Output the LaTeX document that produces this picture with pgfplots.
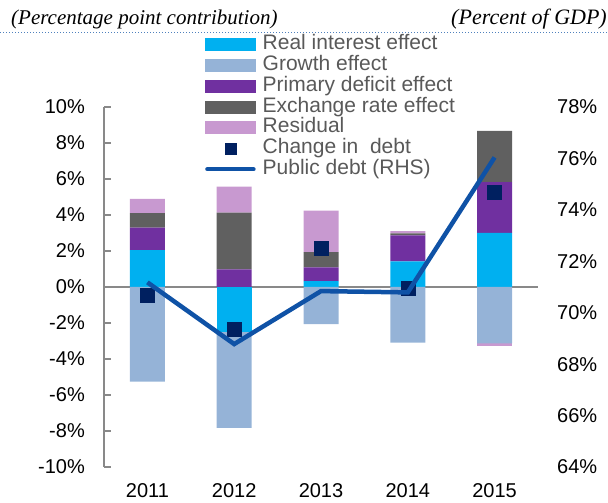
\documentclass[border=0pt]{standalone}
\usepackage{pgfplots}
\pgfplotsset{compat=1.18}
\usepackage{fontspec}
\setmainfont{Liberation Sans}
\newfontfamily\hdrfont{Liberation Serif}
\definecolor{realC}{HTML}{00B0F0}
\definecolor{growC}{HTML}{95B3D7}
\definecolor{primC}{HTML}{7030A0}
\definecolor{exchC}{HTML}{606060}
\definecolor{resC}{HTML}{C899D0}
\definecolor{chgC}{HTML}{002060}
\definecolor{debtC}{HTML}{0F52A6}
\definecolor{axC}{HTML}{898989}
\definecolor{legC}{HTML}{595959}
\definecolor{dotC}{HTML}{4F81BD}
\newcommand\fs{\fontsize{20pt}{22pt}\selectfont}
\newcommand\lfs{\fontsize{21pt}{23pt}\selectfont}
\pgfplotsset{
  base/.style={
    scale only axis, width=434pt, height=360pt,
    at={(104pt,36pt)}, anchor=south west,
    xmin=-0.5, xmax=4.5,
  },
  lfs/.style={ymin=-10, ymax=10},
}
\begin{document}
\begin{tikzpicture}
\useasboundingbox (0,0) rectangle (608pt,503pt);
\node[anchor=base west, inner sep=0pt, font=\hdrfont\itshape\fontsize{21pt}{23pt}\selectfont] at (11pt,478pt) {(Percentage point contribution)};
\node[anchor=base east, inner sep=0pt, font=\hdrfont\itshape\fontsize{22pt}{24pt}\selectfont] at (607pt,478pt) {(Percent of GDP)};
\draw[dotC, dotted, line width=1pt] (0pt,470pt) -- (608pt,470pt);

% axis 0: decorations
\begin{axis}[base, lfs,
  axis y line*=left, axis x line*=bottom,
  x axis line style={draw=none},
  xtick={0,...,4}, xticklabels={2011,2012,2013,2014,2015},
  xtick style={draw=none},
  ytick={-10,-8,...,10},
  tick align=inside, major tick length=7pt,
  y axis line style={axC, line width=1.2pt},
  ytick style={axC, line width=1.2pt},
  yticklabel={\pgfmathprintnumber{\tick}\%},
  /pgf/number format/assume math mode=true,
  tick label style={font=\fs, inner sep=0pt},
  yticklabel style={xshift=-19pt},
  xticklabel style={yshift=-16pt},
]
\draw[axC, line width=1.6pt] (axis cs:-0.5,0) -- (axis cs:4.5,0);
\pgfplotsinvokeforeach{0.5,1.5,2.5,3.5,4.5}{
  \draw[axC, line width=1.2pt] (axis cs:#1,0) ++(0,6pt) -- ++(0,-12pt);
}
\end{axis}

% axis A: positive stack
\begin{axis}[base, lfs, hide axis, ybar stacked, bar width=35pt]
\addplot[fill=realC, draw=none] coordinates {(0,2.05) (1,0) (2,0.33) (3,1.43) (4,3.0)};
\addplot[fill=primC, draw=none] coordinates {(0,1.25) (1,0.98) (2,0.76) (3,1.44) (4,2.82)};
\addplot[fill=exchC, draw=none] coordinates {(0,0.8) (1,3.15) (2,0.85) (3,0.11) (4,2.86)};
\addplot[fill=resC, draw=none] coordinates {(0,0.8) (1,1.44) (2,2.3) (3,0.12) (4,0)};
\end{axis}

% axis B: negative stack
\begin{axis}[base, lfs, hide axis, ybar stacked, bar width=35pt]
\addplot[fill=realC, draw=none] coordinates {(0,0) (1,-2.48) (2,0) (3,0) (4,0)};
\addplot[fill=growC, draw=none] coordinates {(0,-5.26) (1,-5.34) (2,-2.06) (3,-3.09) (4,-3.13)};
\addplot[fill=resC, draw=none] coordinates {(0,0) (1,0) (2,0) (3,0) (4,-0.15)};
\end{axis}

% axis D: change in debt markers
\begin{axis}[base, lfs, hide axis]
\addplot[only marks, mark=square*, mark size=7pt, color=chgC] coordinates {(0,-0.44) (1,-2.33) (2,2.13) (3,-0.06) (4,5.28)};
\end{axis}

% axis E: right axis, public debt, legend
\begin{axis}[base, ymin=64, ymax=78, ytick={64,66,...,78},
  axis y line*=right, axis x line=none,
  y axis line style={draw=none}, ytick style={draw=none},
  yticklabel={\pgfmathprintnumber{\tick}\%},
  /pgf/number format/assume math mode=true,
  tick label style={font=\fs, inner sep=0pt},
  yticklabel style={xshift=19pt},
  legend style={at={(0.2327,1.2)}, anchor=north west, draw=none, fill=none,
    font=\lfs, text=legC, inner sep=0pt, row sep=2.3pt, column sep=7pt,
    nodes={inner sep=0pt, text height=14.5pt, text depth=4pt}},
  legend cell align=left,
]
\addlegendimage{legend image code/.code={\fill[realC] (0pt,-6pt) rectangle (50pt,6pt);}}
\addlegendentry{Real interest effect}
\addlegendimage{legend image code/.code={\fill[growC] (0pt,-6pt) rectangle (50pt,6pt);}}
\addlegendentry{Growth effect}
\addlegendimage{legend image code/.code={\fill[primC] (0pt,-6pt) rectangle (50pt,6pt);}}
\addlegendentry{Primary deficit effect}
\addlegendimage{legend image code/.code={\fill[exchC] (0pt,-6pt) rectangle (50pt,6pt);}}
\addlegendentry{Exchange rate effect}
\addlegendimage{legend image code/.code={\fill[resC] (0pt,-6pt) rectangle (50pt,6pt);}}
\addlegendentry{Residual}
\addlegendimage{legend image code/.code={\fill[chgC] (19.5pt,-5.5pt) rectangle (30.5pt,5.5pt);}}
\addlegendentry{Change in~ debt}
\addplot[debtC, line width=4.5pt, mark=none,
  legend image code/.code={\draw[debtC, line width=4.5pt, line cap=round] (2pt,0pt) -- (48pt,0pt);}]
  coordinates {(0,71.18) (1,68.78) (2,70.84) (3,70.79) (4,76.04)};
\addlegendentry{Public debt (RHS)}
\end{axis}
\end{tikzpicture}
\end{document}
